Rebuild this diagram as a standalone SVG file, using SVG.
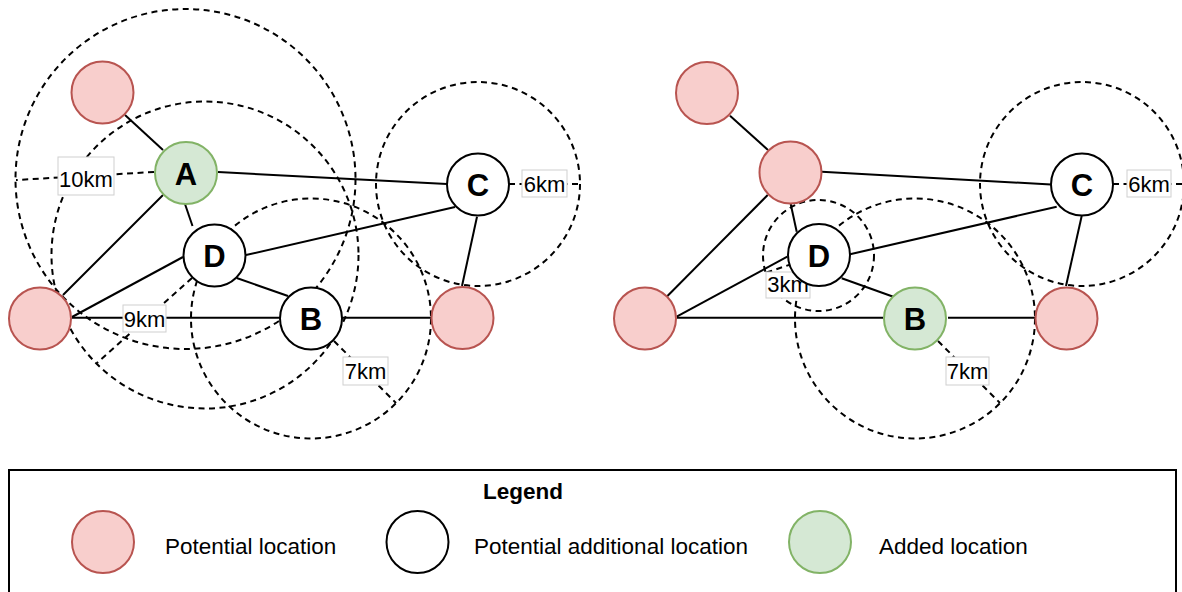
<svg xmlns="http://www.w3.org/2000/svg" width="1182" height="592" viewBox="0 0 1182 592">
  <style>
    .edge { stroke: #000; stroke-width: 2; fill: none; }
    .range { stroke: #000; stroke-width: 2; fill: none; stroke-dasharray: 6 4.5; }
    .node { stroke-width: 2; }
    .potential { fill: #f8cecc; stroke: #b85450; }
    .additional { fill: #ffffff; stroke: #000000; }
    .added { fill: #d5e8d4; stroke: #82b366; }
    .nlabel { font-family: "Liberation Sans", Arial, sans-serif; font-weight: bold; font-size: 31px; text-anchor: middle; fill: #000; }
    .dbox { fill: #ffffff; stroke: #cfcfcf; stroke-width: 1; }
    .dtext { font-family: "Liberation Sans", Arial, sans-serif; font-size: 22px; text-anchor: middle; fill: #000; }
    .ltext { font-family: "Liberation Sans", Arial, sans-serif; font-size: 22.5px; fill: #000; }
  </style>

  <!-- connectors between locations -->
  <g id="connectors">
    <!-- left network -->
    <line class="edge" x1="125" y1="115" x2="163" y2="150"/>
    <line class="edge" x1="218" y1="172" x2="447" y2="184"/>
    <line class="edge" x1="185" y1="204" x2="192.5" y2="226"/>
    <line class="edge" x1="163" y1="195" x2="63" y2="295"/>
    <line class="edge" x1="72" y1="317" x2="183" y2="257"/>
    <line class="edge" x1="72" y1="317.7" x2="280" y2="317.7"/>
    <line class="edge" x1="236.7" y1="278" x2="288" y2="296"/>
    <line class="edge" x1="246" y1="255" x2="455" y2="207"/>
    <line class="edge" x1="477" y1="216.7" x2="462" y2="286"/>
    <line class="edge" x1="342" y1="317.7" x2="431" y2="317.7"/>
    <!-- right network -->
    <line class="edge" x1="730" y1="115.7" x2="768" y2="150"/>
    <line class="edge" x1="821.7" y1="171.7" x2="1051" y2="184.5"/>
    <line class="edge" x1="767.7" y1="195" x2="666.7" y2="296.7"/>
    <line class="edge" x1="790.7" y1="204" x2="796.7" y2="231.7"/>
    <line class="edge" x1="676.7" y1="316.7" x2="787.3" y2="256.7"/>
    <line class="edge" x1="677" y1="317.7" x2="883" y2="317.7"/>
    <line class="edge" x1="841.7" y1="278.3" x2="893.3" y2="296.7"/>
    <line class="edge" x1="850" y1="254.3" x2="1056.7" y2="206.7"/>
    <line class="edge" x1="1081.7" y1="216" x2="1066" y2="286"/>
    <line class="edge" x1="948" y1="317.7" x2="1035" y2="317.7"/>
  </g>

  <!-- coverage ranges with their radius lines -->
  <g id="ranges">
    <circle class="range" cx="185.5" cy="179" r="170"/>
    <circle class="range" cx="205" cy="255" r="153.5"/>
    <circle class="range" cx="311" cy="318.5" r="120"/>
    <circle class="range" cx="478" cy="184" r="102"/>
    <line class="range" x1="154" y1="172" x2="16" y2="180"/>
    <line class="range" x1="192" y1="278" x2="97" y2="363"/>
    <line class="range" x1="334" y1="341" x2="396" y2="403"/>
    <line class="range" x1="509" y1="184" x2="580" y2="184"/>

    <circle class="range" cx="818.5" cy="255.5" r="55.5"/>
    <circle class="range" cx="915" cy="318.5" r="120"/>
    <circle class="range" cx="1082" cy="184" r="102"/>
    <line class="range" x1="792" y1="264" x2="765" y2="273"/>
    <line class="range" x1="938" y1="341" x2="1000" y2="403"/>
    <line class="range" x1="1113" y1="184" x2="1184" y2="184"/>
  </g>

  <!-- distance labels -->
  <g id="distances">
    <rect class="dbox" x="58" y="157" width="56" height="38"/>
    <text class="dtext" x="86" y="187">10km</text>
    <rect class="dbox" x="123" y="305" width="43" height="27"/>
    <text class="dtext" x="144.5" y="326.5">9km</text>
    <rect class="dbox" x="343" y="357" width="45" height="28"/>
    <text class="dtext" x="365.5" y="378.5">7km</text>
    <rect class="dbox" x="522" y="170" width="45" height="27"/>
    <text class="dtext" x="544.5" y="191.5">6km</text>
    <rect class="dbox" x="766" y="272" width="44" height="26"/>
    <text class="dtext" x="788" y="291.7">3km</text>
    <rect class="dbox" x="946" y="357" width="43" height="28"/>
    <text class="dtext" x="967.5" y="378.5">7km</text>
    <rect class="dbox" x="1127" y="170" width="44" height="27"/>
    <text class="dtext" x="1149" y="191.5">6km</text>
  </g>

  <!-- left network nodes -->
  <g id="l-p1"><circle class="node potential" cx="102.5" cy="92.5" r="31"/></g>
  <g id="l-A"><circle class="node added" cx="186" cy="173" r="31"/><text class="nlabel" x="186" y="184.5">A</text></g>
  <g id="l-D"><circle class="node additional" cx="214.5" cy="255.5" r="31"/><text class="nlabel" x="214.5" y="267">D</text></g>
  <g id="l-p2"><circle class="node potential" cx="40" cy="318.5" r="31"/></g>
  <g id="l-B"><circle class="node additional" cx="311" cy="318.5" r="31"/><text class="nlabel" x="311" y="330">B</text></g>
  <g id="l-C"><circle class="node additional" cx="478" cy="184.5" r="31"/><text class="nlabel" x="478" y="196">C</text></g>
  <g id="l-p3"><circle class="node potential" cx="462.5" cy="318" r="31"/></g>

  <!-- right network nodes -->
  <g id="r-p1"><circle class="node potential" cx="707" cy="93" r="31"/></g>
  <g id="r-p4"><circle class="node potential" cx="790.5" cy="172.5" r="31"/></g>
  <g id="r-D"><circle class="node additional" cx="819" cy="255" r="31"/><text class="nlabel" x="819" y="266.5">D</text></g>
  <g id="r-p2"><circle class="node potential" cx="645" cy="318.5" r="31"/></g>
  <g id="r-B"><circle class="node added" cx="915" cy="318.5" r="31"/><text class="nlabel" x="915" y="330">B</text></g>
  <g id="r-C"><circle class="node additional" cx="1082" cy="184.5" r="31"/><text class="nlabel" x="1082" y="196">C</text></g>
  <g id="r-p3"><circle class="node potential" cx="1066.5" cy="318.5" r="31"/></g>

  <!-- legend -->
  <g id="legend">
    <rect x="9" y="470" width="1167" height="140" fill="#ffffff" stroke="#000" stroke-width="2"/>
    <text x="523" y="499" font-family="Liberation Sans, Arial, sans-serif" font-weight="bold" font-size="22.5px" text-anchor="middle">Legend</text>
    <circle class="node potential" cx="103" cy="542" r="31"/>
    <text class="ltext" x="165" y="554">Potential location</text>
    <circle class="node additional" cx="417.5" cy="542" r="31"/>
    <text class="ltext" x="474" y="554">Potential additional location</text>
    <circle class="node added" cx="820" cy="542" r="31"/>
    <text class="ltext" x="879" y="554">Added location</text>
  </g>
</svg>
